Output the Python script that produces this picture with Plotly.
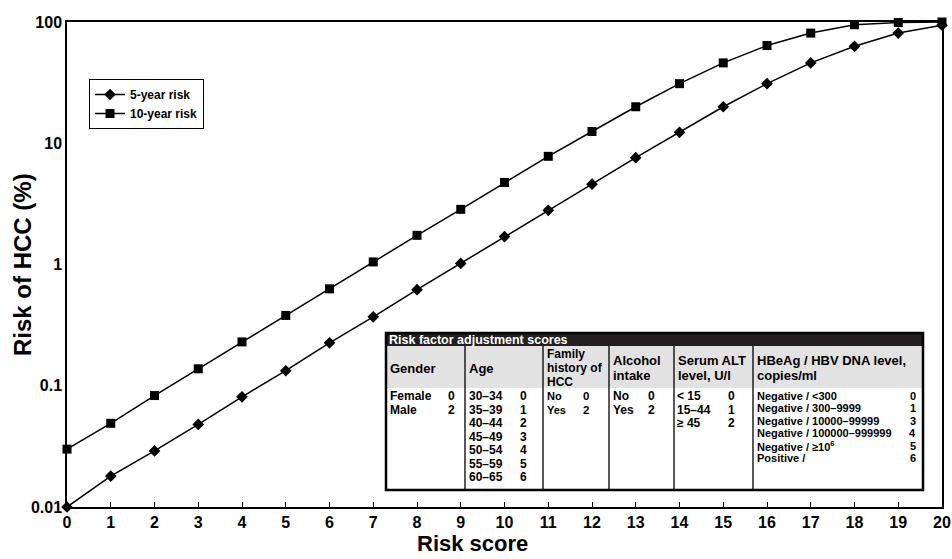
import plotly.graph_objects as go

# ---------------- data ----------------
risk_score = list(range(0, 21))
risk_5yr = [0.01, 0.018, 0.029, 0.048, 0.081, 0.133, 0.226, 0.37, 0.62, 1.02, 1.7,
            2.8, 4.6, 7.6, 12.3, 20, 31, 46, 63, 81, 94]
risk_10yr = [0.03, 0.049, 0.083, 0.138, 0.23, 0.38, 0.63, 1.05, 1.74, 2.85, 4.75,
             7.8, 12.5, 20, 31, 46, 64, 81, 95, 99, 100]
y_tickvals = [0.01, 0.1, 1, 10, 100]
y_ticktext = ["0.01", "0.1", "1", "10", "100"]
x_tickvals = list(range(0, 21))
x_title = "Risk score"
y_title = "Risk of HCC (%)"

table_title = "Risk factor adjustment scores"
headers = [["Gender"], ["Age"], ["Family", "history of", "HCC"], ["Alcohol", "intake"],
           ["Serum ALT", "level, U/l"], ["HBeAg / HBV DNA level,", "copies/ml"]]
gender_lbl = ["Female", "Male"]
gender_sc = ["0", "2"]
age_lbl = ["30–34", "35–39", "40–44", "45–49", "50–54", "55–59", "60–65"]
age_sc = ["0", "1", "2", "3", "4", "5", "6"]
fam_lbl = ["No", "Yes"]
fam_sc = ["0", "2"]
alc_lbl = ["No", "Yes"]
alc_sc = ["0", "2"]
alt_lbl = ["< 15", "15–44", "≥ 45"]
alt_sc = ["0", "1", "2"]
hbv_lbl = ["Negative / <300", "Negative / 300–9999", "Negative / 10000–99999",
           "Negative / 100000–999999", "Negative / ≥10<sup>6</sup>", "Positive /"]
hbv_sc = ["0", "1", "3", "4", "5", "6"]

# ---------------- layout geometry (pixels, in window coordinates) ----------------
WIDTH, HEIGHT = 952, 559
L, R, T, B = 67, 942, 22, 507
PW, PH = R - L, B - T
FONT = "Liberation Sans, Arial, sans-serif"


def px(x):
    return (x - L) / PW


def py(y):
    return (B - y) / PH


fig = go.Figure()
fig.add_trace(go.Scatter(
    x=risk_score, y=risk_5yr, mode="lines+markers", name="5-year risk",
    line=dict(color="black", width=1.5),
    marker=dict(symbol="diamond", size=9, color="black"), cliponaxis=False))
fig.add_trace(go.Scatter(
    x=risk_score, y=risk_10yr, mode="lines+markers", name="10-year risk",
    line=dict(color="black", width=1.5),
    marker=dict(symbol="square", size=9, color="black"), cliponaxis=False))

shapes = []
annotations = []

# table geometry
tx0, tx1 = 386, 923
ty0, ty_title, ty_head, ty1 = 333, 346, 388, 490
cols = [386, 465, 543, 609, 674, 753, 923]

shapes.append(dict(type="rect", xref="paper", yref="paper", x0=px(tx0), x1=px(tx1),
                   y0=py(ty1), y1=py(ty0), fillcolor="white", line=dict(width=0), layer="above"))
shapes.append(dict(type="rect", xref="paper", yref="paper", x0=px(tx0), x1=px(tx1),
                   y0=py(ty_head), y1=py(ty_title), fillcolor="#e2e2e2", line=dict(width=0), layer="above"))
shapes.append(dict(type="rect", xref="paper", yref="paper", x0=px(tx0), x1=px(tx1),
                   y0=py(ty_title), y1=py(ty0), fillcolor="#231f20", line=dict(width=0), layer="above"))
for c in cols[1:-1]:
    shapes.append(dict(type="line", xref="paper", yref="paper", x0=px(c), x1=px(c),
                       y0=py(ty1), y1=py(ty_title), line=dict(color="black", width=1.3), layer="above"))
shapes.append(dict(type="rect", xref="paper", yref="paper", x0=px(tx0), x1=px(tx1),
                   y0=py(ty1), y1=py(ty0), fillcolor="rgba(0,0,0,0)",
                   line=dict(color="black", width=2.5), layer="above"))


def text(s, x, y, size=12, anchor="left", color="black", angle=0):
    annotations.append(dict(text=s, xref="paper", yref="paper", x=px(x), y=py(y),
                            xanchor=anchor, yanchor="middle", showarrow=False,
                            textangle=angle,
                            font=dict(family=FONT, size=size, color=color, weight="bold"),
                            align="left", borderpad=0))


# axis titles
text(x_title, 472, 543, size=22, anchor="center")
text(y_title, 22, 265, size=24, anchor="center", angle=-90)

text(table_title, 388, 340, size=12.5, color="white")
for i, lines in enumerate(headers):
    n = len(lines)
    size = 12 if n == 3 else 13
    hstep_head = 1.2 * size
    mid = 368
    start = mid - (n - 1) * hstep_head / 2
    for j, ln in enumerate(lines):
        text(ln, cols[i] + 3, start + j * hstep_head, size=size)

row0, step = 396, 13.5
for i, (a, b) in enumerate(zip(gender_lbl, gender_sc)):
    text(a, 389, row0 + i * step)
    text(b, 451, row0 + i * step, anchor="center")
for i, (a, b) in enumerate(zip(age_lbl, age_sc)):
    text(a, 468, row0 + i * step)
    text(b, 523, row0 + i * step, anchor="center")
for i, (a, b) in enumerate(zip(fam_lbl, fam_sc)):
    text(a, 546, row0 + i * step, size=11)
    text(b, 586, row0 + i * step, size=11.5, anchor="center")
for i, (a, b) in enumerate(zip(alc_lbl, alc_sc)):
    text(a, 612, row0 + i * step)
    text(b, 651, row0 + i * step, anchor="center")
for i, (a, b) in enumerate(zip(alt_lbl, alt_sc)):
    text(a, 676, row0 + i * step)
    text(b, 731, row0 + i * step, anchor="center")
hstep = 12.4
for i, (a, b) in enumerate(zip(hbv_lbl, hbv_sc)):
    text(a, 756, row0 + i * hstep, size=11)
    text(b, 917, row0 + i * hstep, size=11, anchor="right")

fig.update_layout(
    width=WIDTH, height=HEIGHT,
    margin=dict(l=L, r=WIDTH - R, t=T, b=HEIGHT - B, autoexpand=False),
    paper_bgcolor="white", plot_bgcolor="white",
    showlegend=True,
    legend=dict(x=px(89), y=py(79), xanchor="left", yanchor="top",
                bordercolor="black", borderwidth=1, bgcolor="white",
                font=dict(family=FONT, size=12, color="black", weight="bold"),
                itemwidth=30, tracegroupgap=0),
    xaxis=dict(range=[0, 20], tickvals=x_tickvals, ticks="inside", ticklen=5,
               tickcolor="black", showline=True, linecolor="black", linewidth=1.5,
               mirror=True, showgrid=False, zeroline=False, ticklabeloverflow="allow",
               tickfont=dict(family=FONT, size=16, color="black", weight="bold")),
    yaxis=dict(type="log", range=[-2, 2], tickvals=y_tickvals, ticktext=y_ticktext,
               ticks="", showline=True, linecolor="black", linewidth=1.5, mirror=True,
               showgrid=False, zeroline=False,
               tickfont=dict(family=FONT, size=16, color="black", weight="bold")),
    shapes=shapes,
    annotations=annotations,
)

fig.write_html("out.html", config={"displayModeBar": False},
               post_script="document.body.style.margin='0px';document.body.style.overflow='hidden';")
